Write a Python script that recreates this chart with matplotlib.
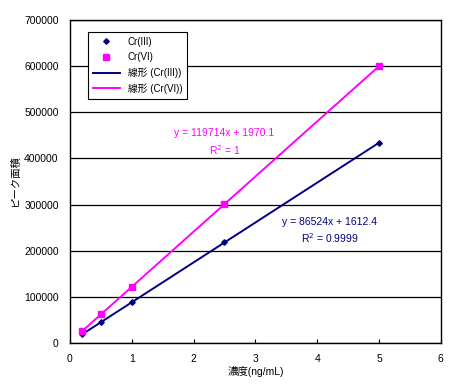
import numpy as np
import matplotlib
matplotlib.use("Agg")
import matplotlib.pyplot as plt

plt.rcParams['font.family'] = ['Liberation Sans', 'Noto Sans CJK JP', 'DejaVu Sans']

# ---------------- data ----------------
conc = [0.2, 0.5, 1.0, 2.5, 5.0]
area_cr3 = [19000, 45000, 88000, 218000, 434000]
area_cr6 = [26000, 62000, 121000, 301000, 600000]
eq_cr3 = ["y = 86524x + 1612.4", "R$^2$ = 0.9999"]
eq_cr6 = ["y = 119714x + 1970.1", "R$^2$ = 1"]

navy = "#000080"
magenta = "#FF00FF"

fig = plt.figure(figsize=(4.72, 3.85), dpi=100)
ax = fig.add_axes([0.148, 0.109, 0.786, 0.839])

x = np.array(conc)
ax.plot(x, area_cr3, linestyle="none", marker="D", ms=2.8, color=navy, label="Cr(III)", zorder=4)
ax.plot(x, area_cr6, linestyle="none", marker="s", ms=4.2, color=magenta, label="Cr(VI)", zorder=4)

# trend lines (linear fit)
xf = np.array([x.min(), x.max()])
k3, b3 = np.polyfit(x, area_cr3, 1)
k6, b6 = np.polyfit(x, area_cr6, 1)
ax.plot(xf, k3 * xf + b3, color=navy, lw=1.4, label="線形 (Cr(III))", zorder=3)
ax.plot(xf, k6 * xf + b6, color=magenta, lw=1.4, label="線形 (Cr(VI))", zorder=3)

ax.text(2.5, 455000, eq_cr6[0], color=magenta, fontsize=7.5, ha="center", va="center")
ax.text(2.5, 419000, eq_cr6[1], color=magenta, fontsize=7.5, ha="center", va="center")
ax.text(4.2, 262000, eq_cr3[0], color=navy, fontsize=7.5, ha="center", va="center")
ax.text(4.2, 227000, eq_cr3[1], color=navy, fontsize=7.5, ha="center", va="center")

ax.set_xlim(0, 6)
ax.set_ylim(0, 700000)
ax.set_xticks(range(0, 7))
ax.set_yticks(range(0, 700001, 100000))
ax.yaxis.grid(True, color="black", lw=0.9)
ax.set_axisbelow(True)
for s in ax.spines.values():
    s.set_linewidth(1.0)
ax.tick_params(axis="x", direction="in", length=3, labelsize=7.5, pad=8)
ax.tick_params(axis="y", direction="out", length=0, labelsize=7.5, pad=8)

ax.set_xlabel("濃度(ng/mL)", fontsize=7.5, labelpad=1)
ax.set_ylabel("ピーク面積", fontsize=7.5, labelpad=3)

leg = ax.legend(loc="upper left", bbox_to_anchor=(0.035, 0.978), fontsize=7,
                frameon=True, fancybox=False, edgecolor="black", framealpha=1,
                handlelength=2.8, borderpad=0.5, labelspacing=0.55)
leg.get_frame().set_linewidth(0.8)

fig.savefig("out.png", dpi=100)
